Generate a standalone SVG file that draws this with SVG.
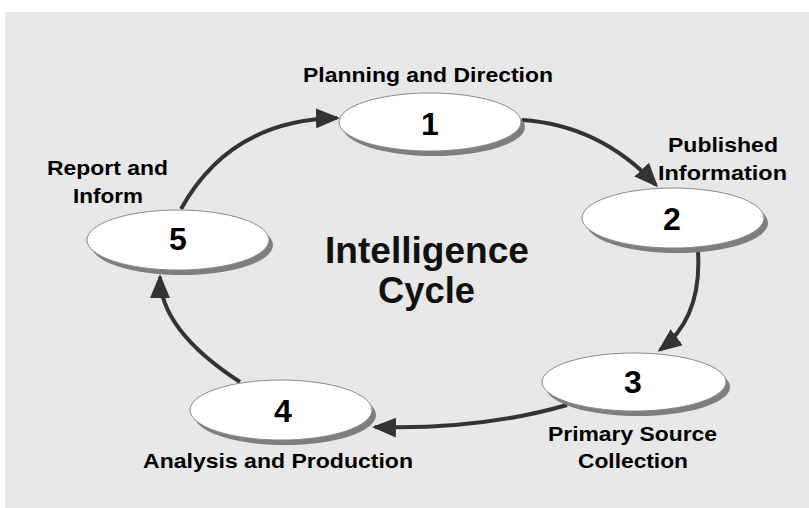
<svg xmlns="http://www.w3.org/2000/svg" width="809" height="508" viewBox="0 0 809 508">
<defs>
<style>
.bg{fill:#e8e8e8}
.shadow{fill:#7e7e7e}
.node{fill:#ffffff;stroke:#8a8a8a;stroke-width:1}
.num{font-family:"Liberation Sans",Arial,sans-serif;font-weight:bold;font-size:32px;fill:#000;text-anchor:middle}
.lbl{font-family:"Liberation Sans",Arial,sans-serif;font-weight:bold;font-size:21px;fill:#000}
.title{font-family:"Liberation Sans",Arial,sans-serif;font-weight:bold;font-size:37px;fill:#111}
.conn{fill:none;stroke:#333333;stroke-width:4}
</style>
<marker id="arrow" viewBox="0 0 24 20" refX="21" refY="10" markerWidth="24" markerHeight="20" markerUnits="userSpaceOnUse" orient="auto">
<path d="M0,0 L24,10 L0,20 z" fill="#333333"/>
</marker>
</defs>
<rect x="0" y="0" width="809" height="508" fill="#ffffff"/>
<rect class="bg" x="5" y="12" width="804" height="496"/>

<g id="connectors">
<path class="conn" d="M522,120 Q600,125 656,185" marker-end="url(#arrow)"/>
<path class="conn" d="M698,252 Q702,318 660,350" marker-end="url(#arrow)"/>
<path class="conn" d="M567,405 Q480,430 375,427" marker-end="url(#arrow)"/>
<path class="conn" d="M240,382 Q160,330 160,277" marker-end="url(#arrow)"/>
<path class="conn" d="M181,209 Q230,120 337,118" marker-end="url(#arrow)"/>
</g>

<g id="node1">
<ellipse class="shadow" cx="434" cy="127" rx="91" ry="29"/>
<ellipse class="node" cx="430" cy="122" rx="91" ry="29"/>
<text class="num" x="430" y="135">1</text>
<text class="lbl" x="303" y="82" textLength="250" lengthAdjust="spacingAndGlyphs">Planning and Direction</text>
</g>

<g id="node2">
<ellipse class="shadow" cx="677" cy="223" rx="91" ry="30"/>
<ellipse class="node" cx="673" cy="218" rx="91" ry="30"/>
<text class="num" x="672" y="230">2</text>
<text class="lbl" x="668" y="152" textLength="110" lengthAdjust="spacingAndGlyphs">Published</text>
<text class="lbl" x="658" y="180" textLength="129" lengthAdjust="spacingAndGlyphs">Information</text>
</g>

<g id="node3">
<ellipse class="shadow" cx="638" cy="387" rx="92" ry="29"/>
<ellipse class="node" cx="634" cy="382" rx="92" ry="29"/>
<text class="num" x="633" y="393">3</text>
<text class="lbl" x="548" y="441" textLength="169" lengthAdjust="spacingAndGlyphs">Primary Source</text>
<text class="lbl" x="578" y="468" textLength="110" lengthAdjust="spacingAndGlyphs">Collection</text>
</g>

<g id="node4">
<ellipse class="shadow" cx="285" cy="415" rx="91" ry="30"/>
<ellipse class="node" cx="281" cy="410" rx="91" ry="30"/>
<text class="num" x="283" y="422">4</text>
<text class="lbl" x="143" y="468" textLength="270" lengthAdjust="spacingAndGlyphs">Analysis and Production</text>
</g>

<g id="node5">
<ellipse class="shadow" cx="182" cy="245" rx="91" ry="30"/>
<ellipse class="node" cx="178" cy="240" rx="91" ry="30"/>
<text class="num" x="178" y="250">5</text>
<text class="lbl" x="47" y="175" textLength="121" lengthAdjust="spacingAndGlyphs">Report and</text>
<text class="lbl" x="73" y="203" textLength="70" lengthAdjust="spacingAndGlyphs">Inform</text>
</g>

<g id="center-title">
<text class="title" x="325" y="263" textLength="204" lengthAdjust="spacingAndGlyphs">Intelligence</text>
<text class="title" x="378" y="303" textLength="97" lengthAdjust="spacingAndGlyphs">Cycle</text>
</g>
</svg>
